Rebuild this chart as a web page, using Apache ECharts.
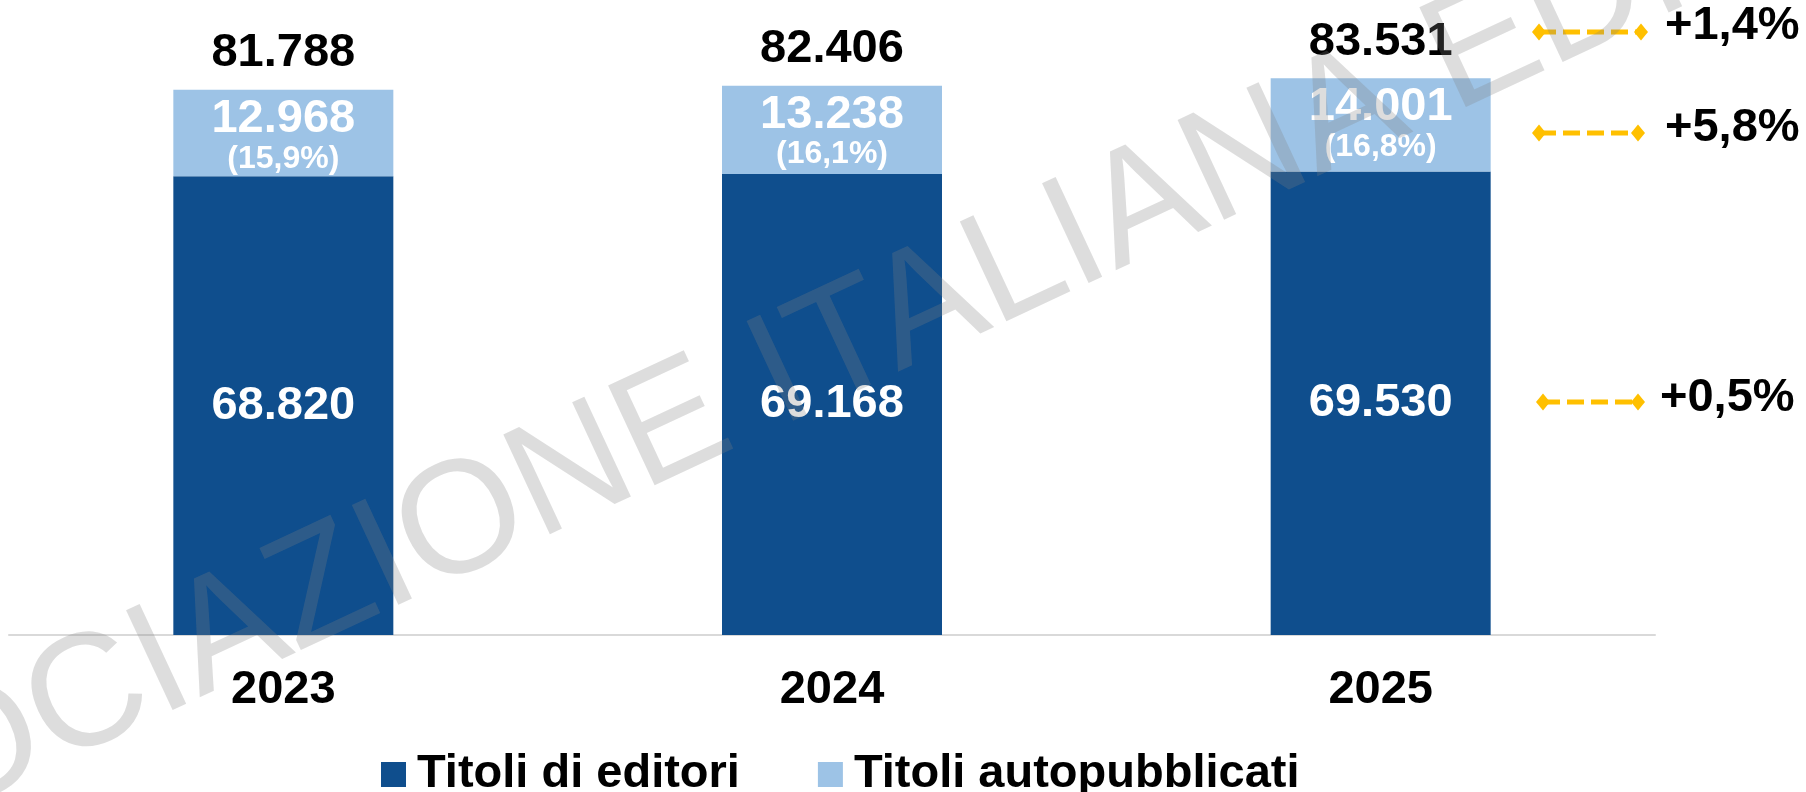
<!DOCTYPE html>
<html>
<head>
<meta charset="utf-8">
<script src="https://cdn.jsdelivr.net/npm/echarts@6/dist/echarts.min.js"></script>
<style>
  html, body { margin: 0; padding: 0; background: #ffffff; }
  #chart { width: 1806px; height: 792px; }
</style>
</head>
<body>
<div id="chart"></div>
<script>
// Titoli pubblicati per anno
const years = ['2023', '2024', '2025'];
const editori = [68820, 69168, 69530];
const autopubblicati = [12968, 13238, 14001];
const seriesNames = ['Titoli di editori', 'Titoli autopubblicati'];
const watermarkText = 'ASSOCIAZIONE ITALIANA EDITORI';

const FONT = '"Liberation Sans", Arial, sans-serif';
const DARK = '#0F4E8D';
const LIGHT = '#9DC3E6';
const GOLD = '#FFC000';

const totals = editori.map((v, i) => v + autopubblicati[i]);

// 12968 -> "12.968"
function fmtInt(n) {
  return String(n).replace(/\B(?=(\d{3})+(?!\d))/g, '.');
}
function fmtPct(x) {
  return x.toFixed(1).replace('.', ',') + '%';
}
function growth(arr) {
  const a = arr[arr.length - 2], b = arr[arr.length - 1];
  const g = (b / a - 1) * 100;
  return (g >= 0 ? '+' : '') + fmtPct(g);
}

// year-on-year change, listed top to bottom: totale, autopubblicati, editori
const growthLabels = [growth(totals), growth(autopubblicati), growth(editori)];

const chart = echarts.init(document.getElementById('chart'), null, { renderer: 'canvas' });

// dashed connector with diamond ends + change label
function annotation(x1, x2, y, textX, textY, text) {
  const d = (cx, cy) => ({
    type: 'polygon',
    shape: { points: [[cx - 7, cy], [cx, cy - 8.5], [cx + 7, cy], [cx, cy + 8.5]] },
    style: { fill: GOLD },
    z: 20
  });
  return [
    {
      type: 'line',
      shape: { x1: x1, y1: y, x2: x2, y2: y },
      style: { stroke: GOLD, lineWidth: 5, lineDash: [17, 7] },
      z: 19
    },
    d(x1, y),
    d(x2, y),
    {
      type: 'text',
      x: textX,
      y: textY,
      style: {
        text: text,
        font: 'bold 47px ' + FONT,
        fill: '#000000',
        align: 'left', verticalAlign: 'middle',
        textAlign: 'left', textVerticalAlign: 'middle'
      },
      z: 20
    }
  ];
}

const graphics = []
  .concat(annotation(1539, 1641, 32, 1665, 26, growthLabels[0]))
  .concat(annotation(1539, 1638, 133, 1665, 128, growthLabels[1]))
  .concat(annotation(1543, 1638, 402, 1660, 398, growthLabels[2]));

// diagonal watermark drawn over the whole chart
graphics.push({
  type: 'text',
  x: -367,
  y: 913,
  rotation: 25 * Math.PI / 180,
  silent: true,
  style: {
    text: watermarkText,
    font: 'normal 160px ' + FONT,
    fill: 'rgba(128,128,128,0.27)',
    align: 'left', verticalAlign: 'middle',
    textAlign: 'left', textVerticalAlign: 'middle'
  },
  z: 100
});

const option = {
  animation: false,
  backgroundColor: '#ffffff',
  textStyle: { fontFamily: FONT },
  grid: { left: 9, right: 151, top: 35, bottom: 157, containLabel: false },
  legend: {
    data: seriesNames,
    left: 376,
    top: 746,
    icon: 'rect',
    itemWidth: 25,
    itemHeight: 25,
    itemGap: 78,
    selectedMode: false,
    textStyle: {
      fontFamily: FONT,
      fontSize: 47,
      fontWeight: 'bold',
      color: '#000000',
      padding: [0, 0, 0, 6]
    }
  },
  xAxis: {
    type: 'category',
    data: years,
    axisTick: { show: false },
    axisLine: { lineStyle: { color: '#D9D9D9', width: 2 } },
    axisLabel: {
      margin: 32,
      color: '#000000',
      fontSize: 47,
      fontWeight: 'bold',
      fontFamily: FONT
    }
  },
  yAxis: {
    type: 'value',
    min: 0,
    max: 90000,
    show: false,
    splitLine: { show: false }
  },
  series: [
    {
      name: seriesNames[0],
      type: 'bar',
      stack: 'titoli',
      data: editori,
      barWidth: 220,
      itemStyle: { color: DARK },
      label: {
        show: true,
        position: 'inside',
        color: '#ffffff',
        fontSize: 47,
        fontWeight: 'bold',
        fontFamily: FONT,
        formatter: p => fmtInt(p.value)
      }
    },
    {
      name: seriesNames[1],
      type: 'bar',
      stack: 'titoli',
      data: autopubblicati,
      barWidth: 220,
      itemStyle: { color: LIGHT },
      label: {
        show: true,
        position: 'insideTop',
        distance: 6,
        formatter: p => '{a|' + fmtInt(p.value) + '}\n{b|(' +
          fmtPct(p.value / totals[p.dataIndex] * 100) + ')}',
        rich: {
          a: { fontSize: 47, fontWeight: 'bold', color: '#ffffff', lineHeight: 46, fontFamily: FONT, align: 'center' },
          b: { fontSize: 32, fontWeight: 'bold', color: '#ffffff', lineHeight: 34, fontFamily: FONT, align: 'center' }
        }
      }
    },
    {
      // transparent bar carrying the total above each stack
      name: 'Totale',
      type: 'bar',
      data: totals,
      barWidth: 220,
      barGap: '-100%',
      silent: true,
      itemStyle: { color: 'rgba(0,0,0,0)' },
      label: {
        show: true,
        position: 'top',
        distance: 13,
        color: '#000000',
        fontSize: 47,
        fontWeight: 'bold',
        fontFamily: FONT,
        formatter: p => fmtInt(p.value)
      },
      z: 1
    }
  ],
  graphic: graphics
};

chart.setOption(option);
</script>
</body>
</html>
